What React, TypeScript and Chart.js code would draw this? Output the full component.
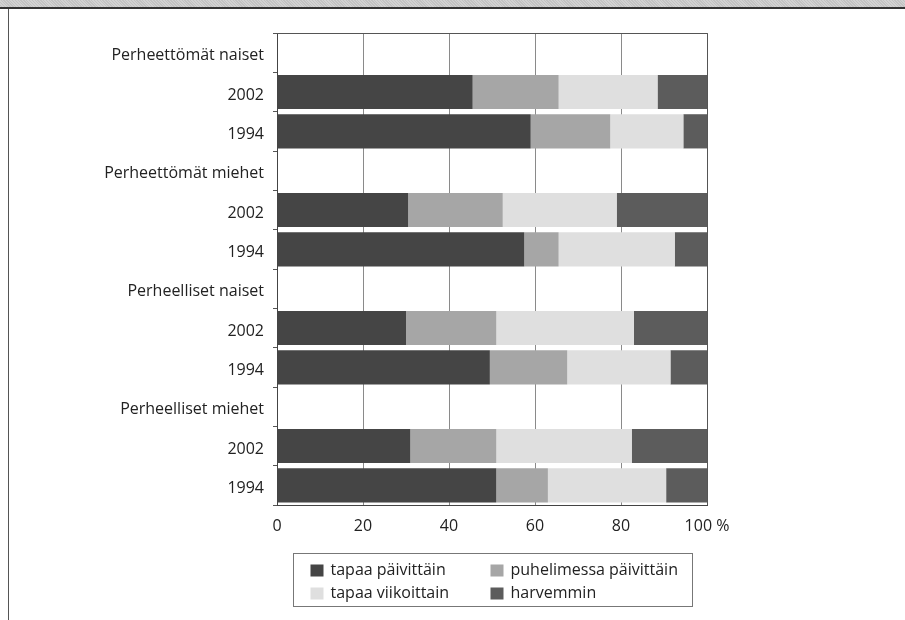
import React, { useEffect, useRef } from "react";
import { Chart, registerables } from "chart.js";

Chart.register(...registerables);

const categories = [
  "Perheettömät naiset", "2002", "1994",
  "Perheettömät miehet", "2002", "1994",
  "Perheelliset naiset", "2002", "1994",
  "Perheelliset miehet", "2002", "1994",
];

const seriesNames = ["tapaa päivittäin", "puhelimessa päivittäin", "tapaa viikoittain", "harvemmin"];

const dailyMeet = [null, 45.5, 59, null, 30.5, 57.5, null, 30, 49.5, null, 31, 51];
const dailyPhone = [null, 20, 18.5, null, 22, 8, null, 21, 18, null, 20, 12];
const weeklyMeet = [null, 23, 17, null, 26.5, 27, null, 32, 24, null, 31.5, 27.5];
const lessOften = [null, 11.5, 5.5, null, 21, 7.5, null, 17, 8.5, null, 17.5, 9.5];

const xTicks = [0, 20, 40, 60, 80, 100];

const colors = ["#454545", "#a6a6a6", "#dfdfdf", "#5c5c5c"];
const FONT = "'Open Sans', 'DejaVu Sans', sans-serif";

const frameAndLegend = {
  id: "frameAndLegend",
  afterDraw(chart: any) {
    const { ctx, chartArea } = chart;
    ctx.save();
    // chart area top & right border
    ctx.strokeStyle = "#555";
    ctx.lineWidth = 1;
    ctx.beginPath();
    ctx.moveTo(chartArea.left, chartArea.top + 0.5);
    ctx.lineTo(chartArea.right + 0.5, chartArea.top + 0.5);
    ctx.lineTo(chartArea.right + 0.5, chartArea.bottom);
    ctx.stroke();

    // legend box
    const boxW = 399;
    const boxH = 53;
    const cx = (chartArea.left + chartArea.right) / 2;
    const bx = Math.round(cx - boxW / 2) + 0.5;
    const by = chartArea.bottom + 48.5;
    ctx.strokeStyle = "#777";
    ctx.strokeRect(bx, by, boxW, boxH);
    ctx.font = `16px ${FONT}`;
    ctx.textBaseline = "middle";
    ctx.fillStyle = "#222";
    const ds = chart.data.datasets;
    const cols = [17, 197];
    const rows = [17, 40];
    ds.forEach((d: any, i: number) => {
      const col = i % 2;
      const row = Math.floor(i / 2);
      const x = bx + cols[col];
      const y = by + rows[row];
      ctx.fillStyle = d.backgroundColor;
      ctx.fillRect(x, y - 6, 13, 12);
      ctx.fillStyle = "#222";
      ctx.fillText(d.label, x + 20, y);
    });
    ctx.restore();
  },
};

export default function App() {
  const ref = useRef<HTMLCanvasElement>(null);
  useEffect(() => {
    document.body.style.margin = "0";
    const datasets = [dailyMeet, dailyPhone, weeklyMeet, lessOften].map((data, i) => ({
      label: seriesNames[i],
      data,
      backgroundColor: colors[i],
      borderWidth: 0,
      barPercentage: 0.87,
      categoryPercentage: 1,
    }));
    const chart = new Chart(ref.current!, {
      type: "bar",
      data: { labels: categories, datasets },
      plugins: [frameAndLegend],
      options: {
        animation: false,
        responsive: false,
        indexAxis: "y",
        layout: { padding: { top: 33, right: 198, left: 0, bottom: 0 } },
        plugins: { legend: { display: false }, tooltip: { enabled: false } },
        scales: {
          x: {
            stacked: true,
            min: 0,
            max: 100,
            afterBuildTicks: (s: any) => {
              s.ticks = xTicks.map((v) => ({ value: v }));
            },
            afterFit: (s: any) => {
              s.height = 115;
            },
            ticks: {
              color: "#222",
              font: { family: FONT, size: 16 },
              padding: 12,
              callback: (v: any) => (v === 100 ? "100 %" : String(v)),
            },
            grid: { color: "#8a8a8a", drawTicks: false, lineWidth: 1 },
            border: { color: "#444", width: 1 },
          },
          y: {
            stacked: true,
            afterFit: (s: any) => {
              s.width = 277;
            },
            ticks: {
              color: "#222",
              font: { family: FONT, size: 16 },
              padding: 9,
              labelOffset: 3,
              autoSkip: false,
            },
            grid: {
              offset: true,
              drawOnChartArea: false,
              drawTicks: true,
              tickLength: 4,
              color: "#555",
            },
            border: { color: "#444", width: 1 },
          },
        },
      },
    } as any);
    return () => chart.destroy();
  }, []);

  return (
    <div style={{ position: "relative", width: 905, height: 620, background: "#fff", overflow: "hidden" }}>
      <div
        style={{
          position: "absolute",
          left: 0,
          top: 0,
          width: 905,
          height: 7,
          background: "repeating-linear-gradient(45deg, #d2d2d2 0px, #d2d2d2 1px, #c2c2c2 1px, #c2c2c2 2px)",
          borderBottom: "2px solid #333",
        }}
      />
      <div style={{ position: "absolute", left: 8, top: 9, width: 1, height: 611, background: "#555" }} />
      <canvas ref={ref} width={905} height={620} style={{ position: "absolute", left: 0, top: 0, width: 905, height: 620 }} />
    </div>
  );
}
